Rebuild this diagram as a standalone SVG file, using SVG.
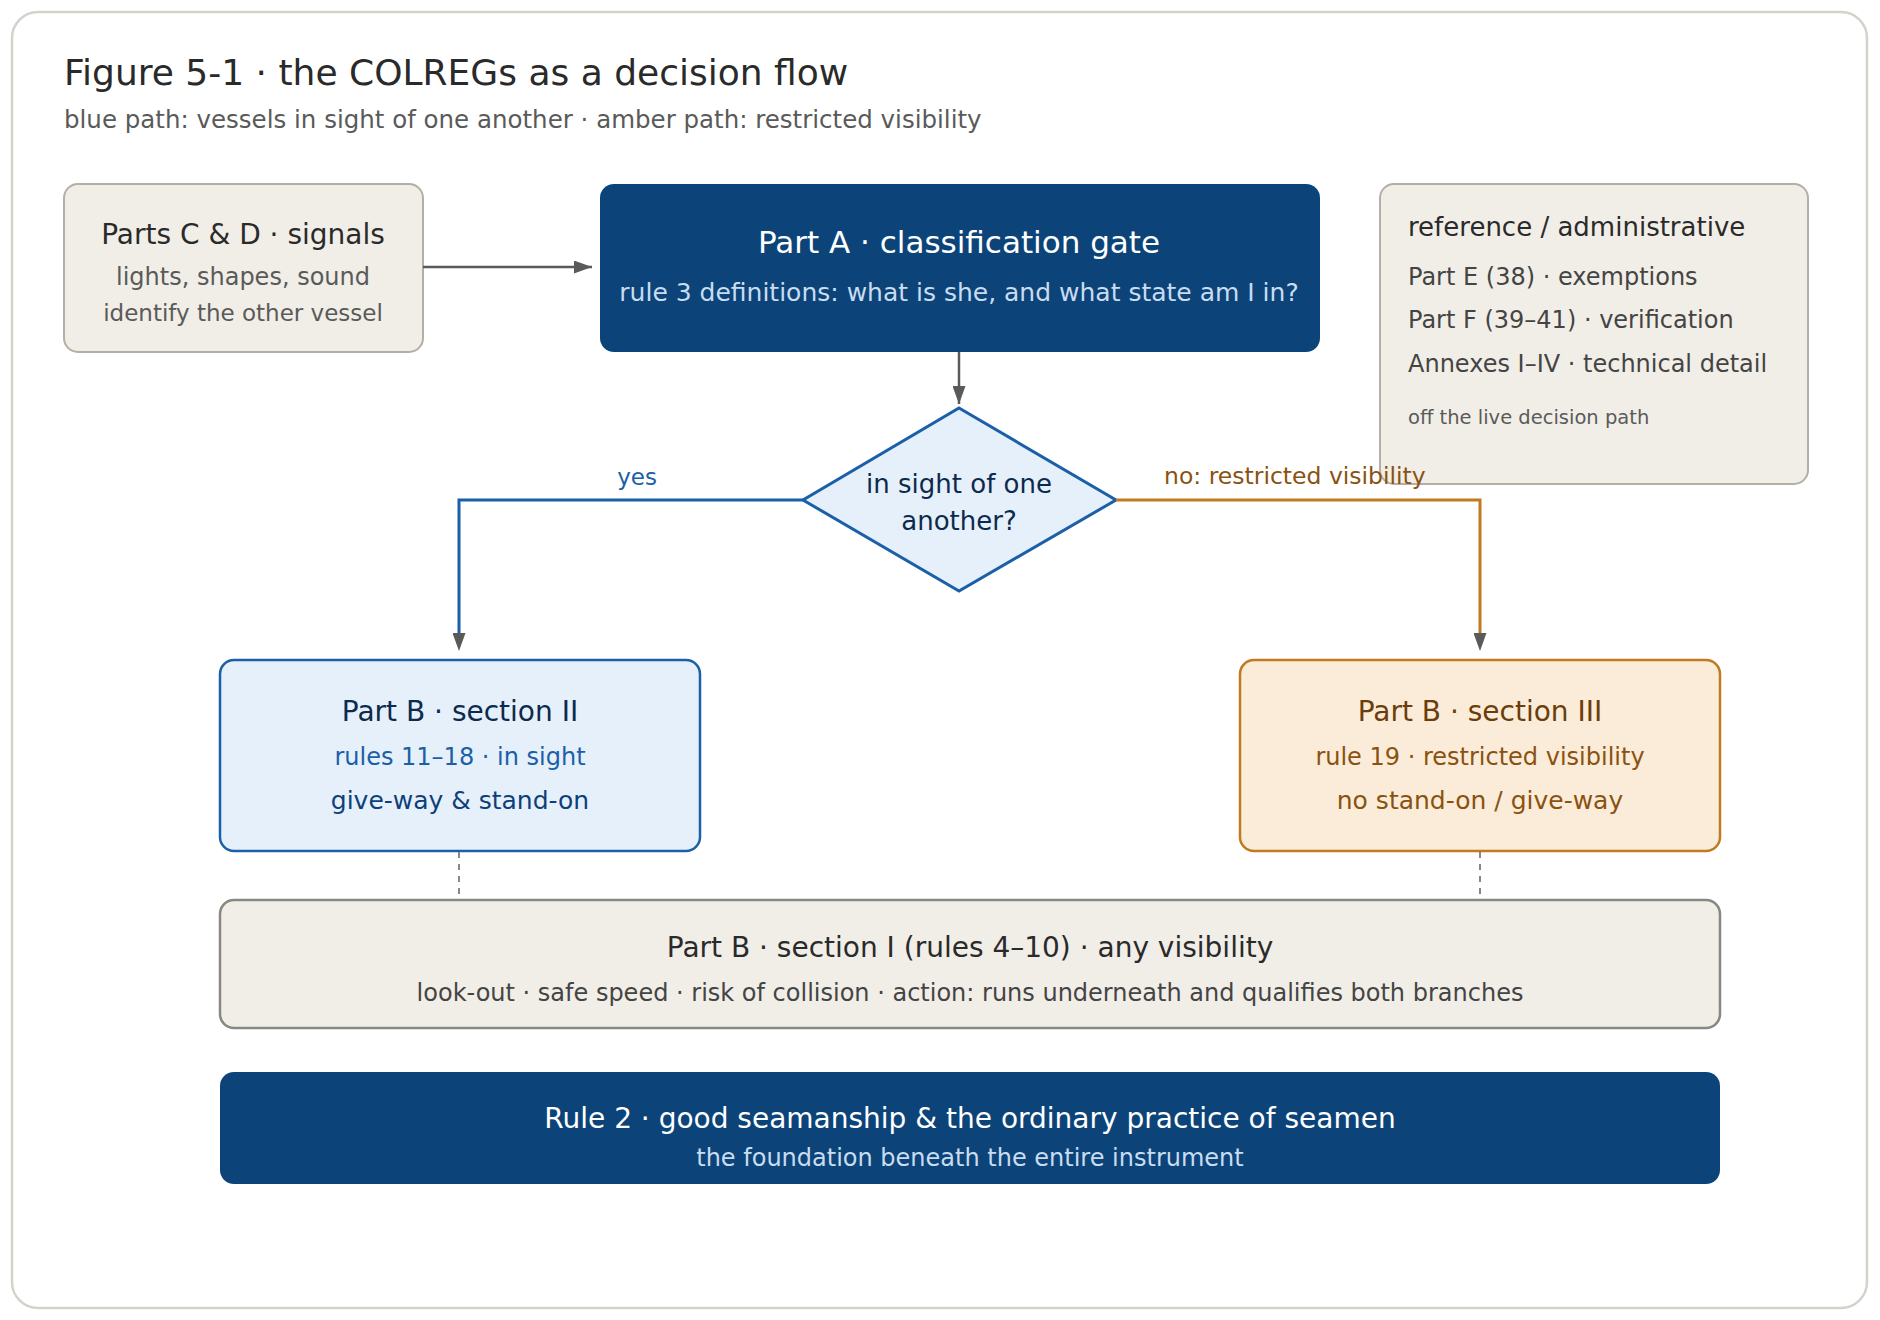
<svg xmlns="http://www.w3.org/2000/svg" width="1880" height="1320" viewBox="0 0 1880 1320">
<defs>
<marker id="arr" viewBox="0 0 18 13" refX="18" refY="6.5" markerWidth="18" markerHeight="13" markerUnits="userSpaceOnUse" orient="auto">
<path d="M0,0 L18,6.5 L0,13 z" fill="#5a5a58"/>
</marker>
<style>
text{font-family:"DejaVu Sans","Liberation Sans",sans-serif}
.c{text-anchor:middle}
.beige{fill:#f1eee8;stroke:#b3afa5;stroke-width:2}
.navy{fill:#0c4479}
.blue{fill:#e6f0fa;stroke:#1a5fa8;stroke-width:2.5}
.amber{fill:#faecd9;stroke:#c07a22;stroke-width:2.5}
.grey{fill:none;stroke:#5a5a58;stroke-width:2.5}
.bl{fill:none;stroke:#1a5fa8;stroke-width:3}
.am{fill:none;stroke:#c07a22;stroke-width:3}
.dash{fill:none;stroke:#888880;stroke-width:2;stroke-dasharray:6 6}
</style>
</defs>
<rect x="12" y="12" width="1855" height="1296" rx="26" fill="#fff" stroke="#d4d2ca" stroke-width="2.5"/>
<text x="64" y="85" font-size="36" fill="#2a2a2a">Figure 5-1 · the COLREGs as a decision flow</text>
<text x="64" y="128" font-size="24.5" fill="#5a5a5a">blue path: vessels in sight of one another · amber path: restricted visibility</text>

<g id="partsCD">
<rect class="beige" x="64" y="184" width="359" height="168" rx="14"/>
<text x="243" y="244" font-size="28" fill="#2a2a2a" class="c">Parts C &amp; D · signals</text>
<text x="243" y="285" font-size="24" fill="#5a5a5a" class="c">lights, shapes, sound</text>
<text x="243" y="321" font-size="23" fill="#5a5a5a" class="c">identify the other vessel</text>
</g>

<g id="partA">
<rect class="navy" x="600" y="184" width="720" height="168" rx="14"/>
<text x="959" y="253" font-size="31" fill="#ffffff" class="c">Part A · classification gate</text>
<text x="959" y="301" font-size="25" fill="#c9dcf0" class="c">rule 3 definitions: what is she, and what state am I in?</text>
</g>

<g id="reference">
<rect class="beige" x="1380" y="184" width="428" height="300" rx="14"/>
<text x="1408" y="236" font-size="26" fill="#2a2a2a">reference / administrative</text>
<text x="1408" y="285" font-size="24" fill="#444444">Part E (38) · exemptions</text>
<text x="1408" y="328" font-size="24" fill="#444444">Part F (39–41) · verification</text>
<text x="1408" y="372" font-size="24" fill="#444444">Annexes I–IV · technical detail</text>
<text x="1408" y="424" font-size="19.5" fill="#5a5a5a">off the live decision path</text>
</g>

<g id="decision">
<polygon points="959,408 1116,500 959,591 803,500" fill="#e6f0fa" stroke="#1a5fa8" stroke-width="3"/>
<text x="959" y="493" font-size="26" fill="#0c2a4d" class="c">in sight of one</text>
<text x="959" y="530" font-size="26" fill="#0c2a4d" class="c">another?</text>
</g>

<g id="sectionII">
<rect class="blue" x="220" y="660" width="480" height="191" rx="14"/>
<text x="460" y="721" font-size="28" fill="#0c2a4d" class="c">Part B · section II</text>
<text x="460" y="765" font-size="24" fill="#1a5fa8" class="c">rules 11–18 · in sight</text>
<text x="460" y="809" font-size="25" fill="#0d3f7a" class="c">give-way &amp; stand-on</text>
</g>

<g id="sectionIII">
<rect class="amber" x="1240" y="660" width="480" height="191" rx="14"/>
<text x="1480" y="721" font-size="28" fill="#6b3d0a" class="c">Part B · section III</text>
<text x="1480" y="765" font-size="24" fill="#8a5210" class="c">rule 19 · restricted visibility</text>
<text x="1480" y="809" font-size="25" fill="#8a5210" class="c">no stand-on / give-way</text>
</g>

<g id="sectionI">
<rect x="220" y="900" width="1500" height="128" rx="14" fill="#f1eee8" stroke="#888880" stroke-width="2.5"/>
<text x="970" y="957" font-size="28" fill="#2a2a2a" class="c">Part B · section I (rules 4–10) · any visibility</text>
<text x="970" y="1001" font-size="24" fill="#444444" class="c">look-out · safe speed · risk of collision · action: runs underneath and qualifies both branches</text>
</g>

<g id="rule2">
<rect class="navy" x="220" y="1072" width="1500" height="112" rx="14"/>
<text x="970" y="1128" font-size="28" fill="#ffffff" class="c">Rule 2 · good seamanship &amp; the ordinary practice of seamen</text>
<text x="970" y="1166" font-size="24" fill="#c9dcf0" class="c">the foundation beneath the entire instrument</text>
</g>

<g id="connectors">
<path class="grey" d="M423,267 L592,267" marker-end="url(#arr)"/>
<path class="grey" d="M959,352 L959,404" marker-end="url(#arr)"/>
<path class="bl" d="M803,500 L459,500 L459,640"/>
<path d="M459,630 L459,651" class="grey" marker-end="url(#arr)" stroke-opacity="0"/>
<path class="am" d="M1116,500 L1480,500 L1480,640"/>
<path d="M1480,630 L1480,651" class="grey" marker-end="url(#arr)" stroke-opacity="0"/>
<path class="dash" d="M459,852 L459,899"/>
<path class="dash" d="M1480,852 L1480,899"/>
<text x="637" y="485" font-size="23" fill="#1a5fa8" class="c">yes</text>
<text x="1164" y="484" font-size="23.5" fill="#8a5210">no: restricted visibility</text>
</g>
</svg>
